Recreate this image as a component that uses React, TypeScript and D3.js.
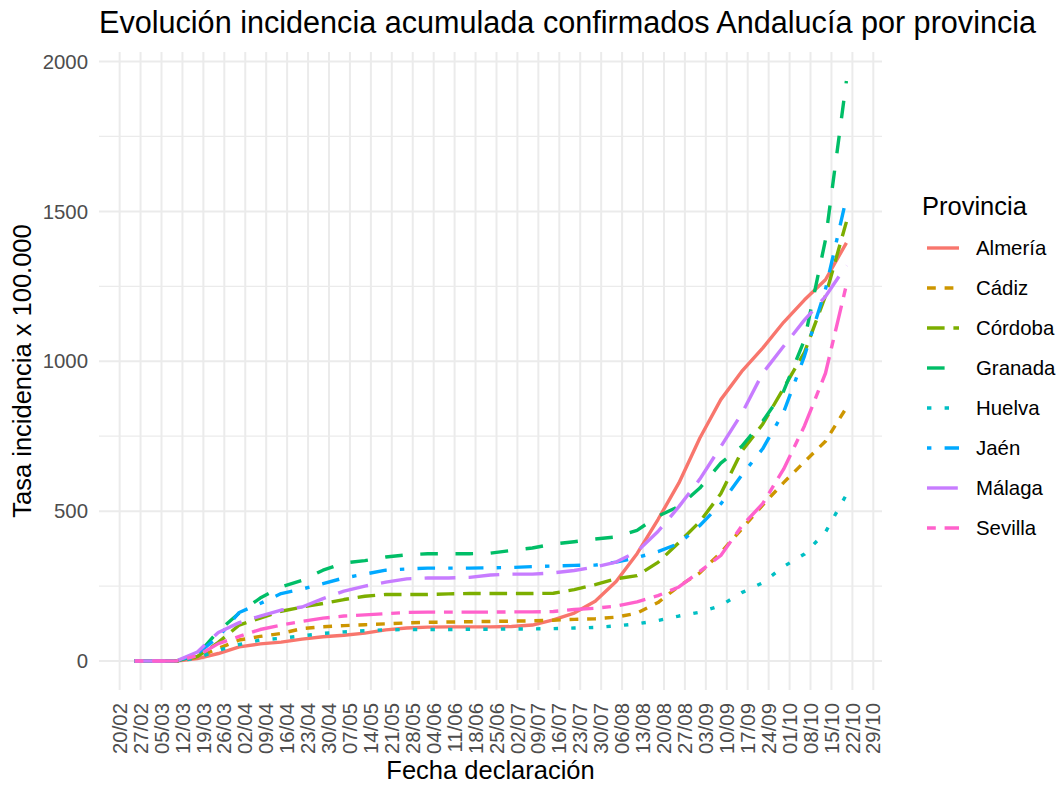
import * as d3 from "d3";

// fechas de declaración (semanales) y tasas acumuladas x 100.000
const fechas = ["25/02","03/03","10/03","17/03","24/03","31/03","07/04","14/04","21/04","28/04","05/05","12/05","19/05","26/05","02/06","09/06","16/06","23/06","30/06","07/07","14/07","21/07","28/07","04/08","11/08","18/08","25/08","01/09","08/09","15/09","22/09","29/09","06/10","13/10","20/10"];

const almeria = [0,0,0,8,25,47,57,63,73,81,86,93,104,110,113,114,114,114,115,120,137,160,199,265,358,472,594,744,872,966,1044,1130,1205,1272,1395];
const cadiz = [0,0,0,12,42,70,82,92,108,114,118,121,124,127,129,130,131,132,133,134,136,139,141,146,160,195,250,294,362,440,520,595,665,733,845];
const cordoba = [0,0,0,15,62,120,143,166,180,192,205,216,222,222,222,224,225,225,225,225,226,238,255,274,285,329,395,465,558,700,790,910,1030,1218,1465];
const granada = [0,0,0,20,100,160,210,247,269,303,327,335,347,354,358,358,358,360,369,377,390,398,407,414,436,483,516,577,660,716,800,900,1072,1405,1935];
const huelva = [0,0,0,10,36,55,70,76,84,92,97,101,104,105,105,105,106,106,107,107,108,110,112,117,124,135,150,163,185,228,261,315,357,430,555];
const jaen = [0,0,0,25,80,162,192,225,240,258,277,290,303,307,310,310,310,311,312,315,317,319,320,330,345,365,392,452,524,620,708,830,1018,1240,1545];
const malaga = [0,0,0,30,95,128,150,170,180,208,233,250,263,274,277,277,279,287,290,290,294,302,314,330,365,432,515,607,715,825,960,1050,1138,1216,1320];
const sevilla = [0,0,0,18,58,82,105,120,132,143,150,154,158,162,163,163,163,163,164,164,165,172,176,183,197,218,247,299,352,450,525,640,785,960,1255];

const provincias = ["Almería","Cádiz","Córdoba","Granada","Huelva","Jaén","Málaga","Sevilla"];
const series = [almeria, cadiz, cordoba, granada, huelva, jaen, malaga, sevilla];

const xTickLabels = ["20/02","27/02","05/03","12/03","19/03","26/03","02/04","09/04","16/04","23/04","30/04","07/05","14/05","21/05","28/05","04/06","11/06","18/06","25/06","02/07","09/07","16/07","23/07","30/07","06/08","13/08","20/08","27/08","03/09","10/09","17/09","24/09","01/10","08/10","15/10","22/10","29/10"];
const yTicks = [0, 500, 1000, 1500, 2000];
const yMinor = [250, 750, 1250, 1750];

const colores = ["#F8766D","#CD9600","#7CAE00","#00BE67","#00BFC4","#00A9FF","#C77CFF","#FF61CC"];
const tiposLinea = ["", "22", "42", "44", "13", "1343", "73", "2262"];

const W = 1060, H = 785;
const left = 99, right = 882, top = 52, bottom = 690;
const font = "'Liberation Sans', Arial, Helvetica, sans-serif";
const unidad = 4.4;
const grosor = 3.4;

const parse = (s: string) => d3.timeParse("%d/%m/%Y")(s + "/2020")!;

function dash(lt: string) {
  if (!lt) return undefined;
  return lt.split("").map((c) => parseInt(c, 16) * unidad).join(",");
}

export default function App() {
  const fechasD = fechas.map(parse);
  const ext = d3.extent(fechasD) as [Date, Date];
  const span = +ext[1] - +ext[0];
  const x = d3
    .scaleTime()
    .domain([new Date(+ext[0] - span * 0.05), new Date(+ext[1] + span * 0.05)])
    .range([left, right]);

  const ymax = d3.max(series, (s) => d3.max(s))!;
  const y = d3
    .scaleLinear()
    .domain([-ymax * 0.05, ymax * 1.05])
    .range([bottom, top]);

  const line = d3
    .line<number>()
    .x((_, i) => x(fechasD[i]))
    .y((v) => y(v));

  const ticksX = xTickLabels.map(parse);

  return (
    <svg
      width={W}
      height={H}
      style={{ position: "absolute", left: 0, top: 0, background: "#fff" }}
      fontFamily={font}
    >
      <rect width={W} height={H} fill="#fff" />
      {/* rejilla */}
      {yMinor.map((v) => (
        <line key={"m" + v} x1={left} x2={right} y1={y(v)} y2={y(v)} stroke="#EBEBEB" strokeWidth={1.2} />
      ))}
      {yTicks.map((v) => (
        <line key={"y" + v} x1={left} x2={right} y1={y(v)} y2={y(v)} stroke="#EBEBEB" strokeWidth={2} />
      ))}
      {ticksX.map((d, i) => (
        <line key={"x" + i} x1={x(d)} x2={x(d)} y1={top} y2={bottom} stroke="#EBEBEB" strokeWidth={2} />
      ))}

      {/* series */}
      {series.map((s, i) => (
        <path
          key={provincias[i]}
          d={line(s)!}
          fill="none"
          stroke={colores[i]}
          strokeWidth={grosor}
          strokeDasharray={dash(tiposLinea[i])}
          strokeLinecap="butt"
          strokeLinejoin="round"
        />
      ))}

      {/* eje y */}
      {yTicks.map((v) => (
        <text key={"ty" + v} x={88} y={y(v)} dy="0.35em" textAnchor="end" fontSize={20.4} fill="#4D4D4D">
          {v}
        </text>
      ))}
      {/* eje x */}
      {ticksX.map((d, i) => (
        <text
          key={"tx" + i}
          transform={`translate(${x(d)},${bottom + 13}) rotate(-90)`}
          dy="0.35em"
          textAnchor="end"
          fontSize={20.4}
          fill="#4D4D4D"
        >
          {xTickLabels[i]}
        </text>
      ))}

      {/* títulos */}
      <text x={left} y={33} fontSize={30.6} fill="#000">
        Evolución incidencia acumulada confirmados Andalucía por provincia
      </text>
      <text x={(left + right) / 2} y={779} textAnchor="middle" fontSize={25.5} fill="#000">
        Fecha declaración
      </text>
      <text
        transform={`translate(31,${(top + bottom) / 2}) rotate(-90)`}
        textAnchor="middle"
        fontSize={25.5}
        fill="#000"
      >
        Tasa incidencia x 100.000
      </text>

      {/* leyenda */}
      <text x={922} y={215} fontSize={25.5} fill="#000">
        Provincia
      </text>
      {provincias.map((p, i) => {
        const cy = 248 + i * 40;
        return (
          <g key={"l" + p}>
            <line
              x1={927}
              x2={959}
              y1={cy}
              y2={cy}
              stroke={colores[i]}
              strokeWidth={grosor}
              strokeDasharray={dash(tiposLinea[i])}
            />
            <text x={976} y={cy} dy="0.35em" fontSize={20.4} fill="#000">
              {p}
            </text>
          </g>
        );
      })}
    </svg>
  );
}
